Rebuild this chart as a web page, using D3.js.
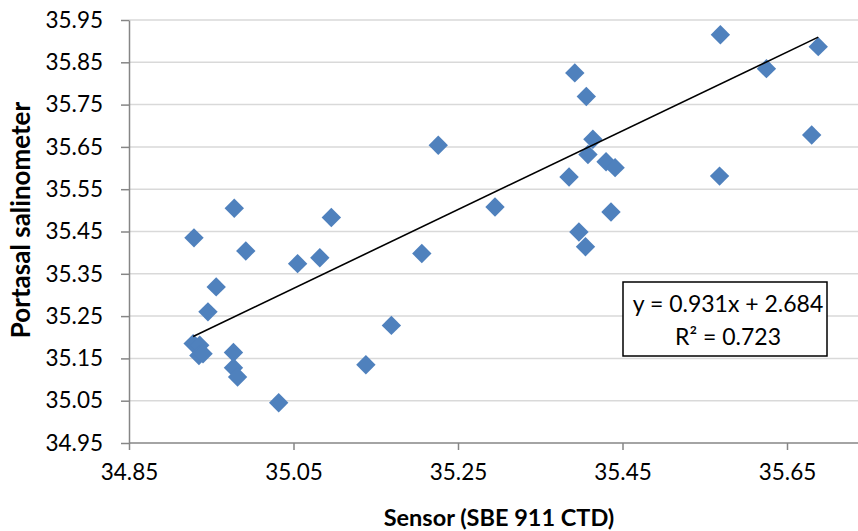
<!DOCTYPE html>
<html>
<head>
<meta charset="utf-8">
<script src="https://cdn.jsdelivr.net/npm/d3@7"></script>
<style>
  body { margin: 0; background: #fff; }
  svg { display: block; font-family: Lato, "Open Sans", sans-serif; }
</style>
</head>
<body>
<div id="viz"></div>
<script>
// sensor (x) vs salinometer (y) readings
const sensorValues = [
  34.929, 34.978, 34.992, 34.956, 34.946, 34.928, 34.936, 34.935, 34.940,
  34.977, 34.977, 34.982, 35.032, 35.055, 35.082, 35.096, 35.138, 35.169,
  35.206, 35.226, 35.295, 35.385, 35.392, 35.406, 35.414, 35.408, 35.430,
  35.441, 35.436, 35.397, 35.405, 35.569, 35.568, 35.625, 35.688, 35.680
];
const salinometerValues = [
  35.435, 35.505, 35.404, 35.319, 35.260, 35.185, 35.181, 35.157, 35.161,
  35.164, 35.128, 35.106, 35.045, 35.374, 35.388, 35.483, 35.135, 35.228,
  35.398, 35.654, 35.508, 35.579, 35.825, 35.769, 35.668, 35.632, 35.615,
  35.601, 35.496, 35.449, 35.414, 35.915, 35.581, 35.835, 35.887, 35.678
];
const xTicks = [34.85, 35.05, 35.25, 35.45, 35.65];
const yTicks = [34.95, 35.05, 35.15, 35.25, 35.35, 35.45, 35.55, 35.65, 35.75, 35.85, 35.95];
const slope = 0.931,
  intercept = 2.684;
const equationLines = ["y = 0.931x + 2.684", "R² = 0.723"];

const width = 858,
  height = 531;
const plotLeft = 129,
  plotTop = 20,
  plotBottom = 443;

const svg = d3
  .select("#viz")
  .append("svg")
  .attr("width", width)
  .attr("height", height);

const xScale = d3
  .scaleLinear()
  .domain([34.85, 35.75])
  .range([plotLeft, plotLeft + 0.9 * 822.5]);

const yScale = d3
  .scaleLinear()
  .domain([34.95, 35.95])
  .range([plotBottom, plotTop]);

// gridlines
svg
  .append("g")
  .selectAll("line")
  .data(yTicks.slice(1))
  .enter()
  .append("line")
  .attr("x1", plotLeft)
  .attr("x2", width)
  .attr("y1", d => yScale(d))
  .attr("y2", d => yScale(d))
  .attr("stroke", "#d9d9d9")
  .attr("stroke-width", 1.5);

// Y axis
const yAxis = d3
  .axisLeft(yScale)
  .tickValues(yTicks)
  .tickFormat(d3.format(".2f"))
  .tickSizeInner(8)
  .tickSizeOuter(0)
  .tickPadding(18);

const axisLeftG = svg
  .append("g")
  .attr("id", "y-axis")
  .attr("transform", `translate(${plotLeft}, 0)`)
  .call(yAxis);

// X axis
const xAxis = d3
  .axisBottom(xScale)
  .tickValues(xTicks)
  .tickFormat(d3.format(".2f"))
  .tickSizeInner(7)
  .tickSizeOuter(0)
  .tickPadding(14);

const axisBottomG = svg
  .append("g")
  .attr("id", "x-axis")
  .attr("transform", `translate(0, ${plotBottom})`)
  .call(xAxis);

[axisLeftG, axisBottomG].forEach(g => {
  g.select(".domain").attr("stroke", "#868686").attr("stroke-width", 1.5);
  g.selectAll(".tick line").attr("stroke", "#868686").attr("stroke-width", 1.5);
  g.selectAll(".tick text")
    .attr("fill", "#000")
    .style("font-size", "22.5px")
    .style("font-family", "Lato, sans-serif");
});
axisBottomG.select(".domain").attr("d", `M${plotLeft},0H${width}`);

// points
const diamond = d3.symbol().type(d3.symbolDiamond2).size(240);
svg
  .append("g")
  .selectAll("path")
  .data(sensorValues)
  .enter()
  .append("path")
  .attr("d", diamond)
  .attr("transform", (d, i) => `translate(${xScale(d)}, ${yScale(salinometerValues[i])})`)
  .attr("fill", "#4f81bd");

// trendline
const xMin = d3.min(sensorValues),
  xMax = d3.max(sensorValues);
svg
  .append("line")
  .attr("x1", xScale(xMin))
  .attr("y1", yScale(slope * xMin + intercept))
  .attr("x2", xScale(xMax))
  .attr("y2", yScale(slope * xMax + intercept))
  .attr("stroke", "#000")
  .attr("stroke-width", 1.6);

// equation box
const box = svg.append("g");
box
  .append("rect")
  .attr("x", 623)
  .attr("y", 282)
  .attr("width", 204)
  .attr("height", 74)
  .attr("fill", "#fff")
  .attr("stroke", "#000")
  .attr("stroke-width", 1.5);
box
  .selectAll("text")
  .data(equationLines)
  .enter()
  .append("text")
  .attr("x", 728)
  .attr("y", (d, i) => 312 + i * 33)
  .attr("text-anchor", "middle")
  .style("font-size", "23px")
  .text(d => d);

// axis titles
svg
  .append("text")
  .attr("x", 499)
  .attr("y", 526)
  .attr("text-anchor", "middle")
  .style("font-size", "23.5px")
  .style("font-weight", "bold")
  .text("Sensor (SBE 911 CTD)");

svg
  .append("text")
  .attr("transform", "translate(30, 220) rotate(-90)")
  .attr("text-anchor", "middle")
  .style("font-size", "26px")
  .style("font-weight", "bold")
  .text("Portasal salinometer");
</script>
</body>
</html>
